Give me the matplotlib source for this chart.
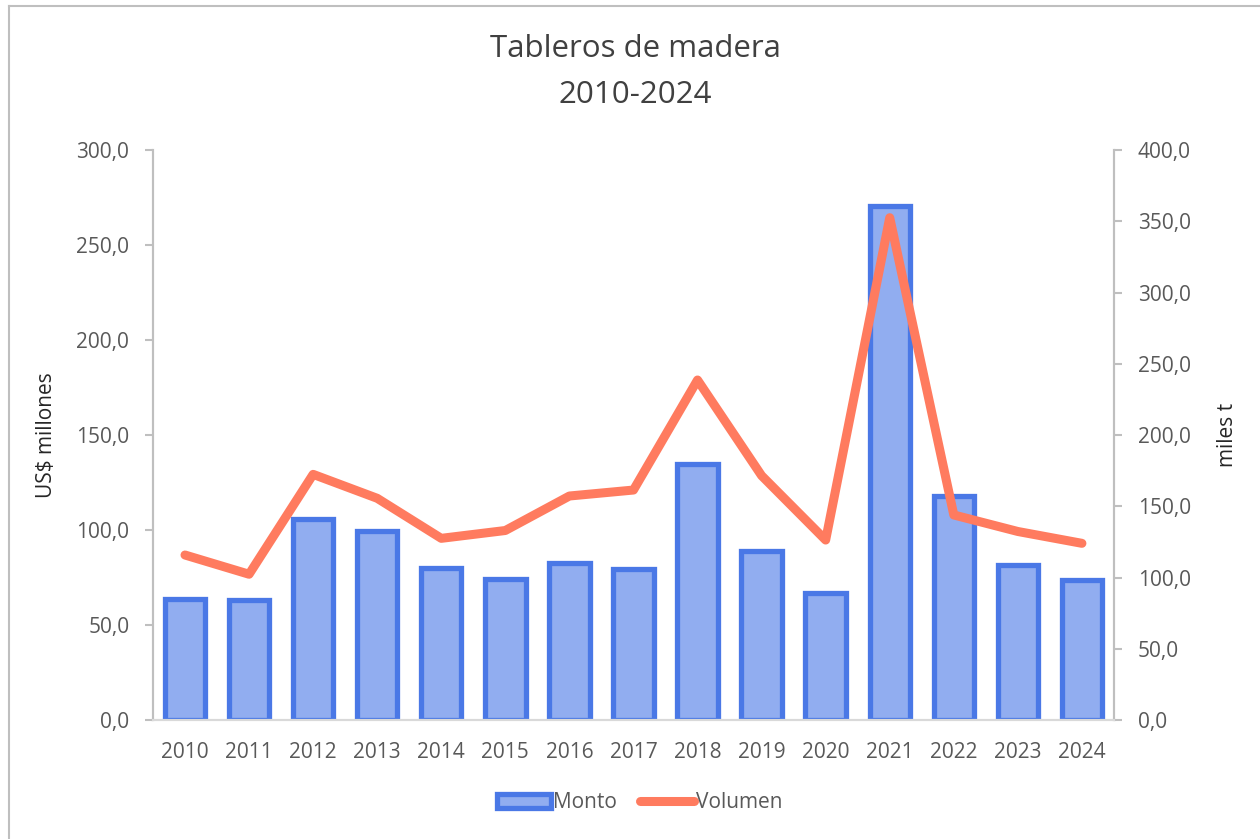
import matplotlib
matplotlib.use("Agg")
import matplotlib.pyplot as plt
from matplotlib.lines import Line2D
from matplotlib.ticker import FuncFormatter

years = ["2010", "2011", "2012", "2013", "2014", "2015", "2016", "2017",
         "2018", "2019", "2020", "2021", "2022", "2023", "2024"]
monto = [63.8, 63.2, 105.6, 99.6, 80.2, 74.2, 82.6, 79.5,
         134.7, 88.9, 67.0, 270.5, 117.9, 81.6, 73.7]
volumen = [115.8, 102.3, 172.4, 155.6, 127.5, 133.0, 157.2, 161.4,
           238.6, 171.5, 126.3, 352.5, 143.9, 132.3, 124.0]

plt.rcParams['font.family'] = ['Open Sans', 'DejaVu Sans']

bar_face = "#91ADF0"
bar_edge = "#4A78E6"
line_col = "#FF7B5F"
grey_txt = "#595959"
spine_col = "#BFBFBF"

fig = plt.figure(figsize=(12.6, 8.39), dpi=100)
ax = fig.add_axes([0.1214, 0.1418, 0.7627, 0.6794])
ax2 = ax.twinx()

x = range(len(years))
ax.bar(x, monto, width=0.63, color=bar_face, edgecolor=bar_edge,
       linewidth=3.8, label="Monto", zorder=2)
ax2.plot(x, volumen, color=line_col, linewidth=6.5, solid_joinstyle="round",
         solid_capstyle="round", label="Volumen")

ax.set_xlim(-0.5, len(years) - 0.5)
ax.set_ylim(0, 300)
ax2.set_ylim(0, 400)
ax.set_yticks(range(0, 301, 50))
ax2.set_yticks(range(0, 401, 50))

fmt = FuncFormatter(lambda v, p: f"{v:.1f}".replace(".", ","))
ax.yaxis.set_major_formatter(fmt)
ax2.yaxis.set_major_formatter(fmt)

ax.set_xticks(list(x))
ax.set_xticklabels(years)
ax.tick_params(axis="x", length=0, pad=16, labelsize=15, labelcolor=grey_txt)
ax.tick_params(axis="y", length=6, width=1.5, color=spine_col, pad=11,
               labelsize=15, labelcolor=grey_txt)
ax2.tick_params(axis="y", length=6, width=1.5, color=spine_col, pad=11,
                labelsize=15, labelcolor=grey_txt)

for a in (ax, ax2):
    a.spines["top"].set_visible(False)
    a.spines["left"].set_color(spine_col)
    a.spines["right"].set_color(spine_col)
    a.spines["left"].set_linewidth(1.5)
    a.spines["right"].set_linewidth(1.5)
    a.spines["bottom"].set_color("#D9D9D9")
    a.spines["bottom"].set_linewidth(1.5)

ax.set_ylabel("US$ millones", fontsize=15, color="#262626")
ax.yaxis.set_label_coords(-0.1, 0.5)
ax2.set_ylabel("miles t", fontsize=15, color="#262626")
ax2.yaxis.set_label_coords(1.107, 0.5)

fig.text(0.504, 0.914, "Tableros de madera\n2010-2024", ha="center", va="center",
         fontsize=22.5, color="#404040", linespacing=1.7)

h1, l1 = ax.get_legend_handles_labels()
h2, l2 = ax2.get_legend_handles_labels()
fig.legend(h1 + h2, l1 + l2, loc="center", bbox_to_anchor=(0.508, 0.043),
           ncol=2, frameon=False, fontsize=15, handlelength=2.6,
           handletextpad=0.1, columnspacing=1.1, labelcolor=grey_txt)

# thin frame around the chart area (only left/top visible in the crop)
fig.add_artist(Line2D([0.0071, 0.0071], [0, 0.9925], transform=fig.transFigure,
                      color=spine_col, linewidth=1.5))
fig.add_artist(Line2D([0.0071, 1.0], [0.9925, 0.9925], transform=fig.transFigure,
                      color=spine_col, linewidth=1.5))

fig.savefig("out.png", dpi=100)
